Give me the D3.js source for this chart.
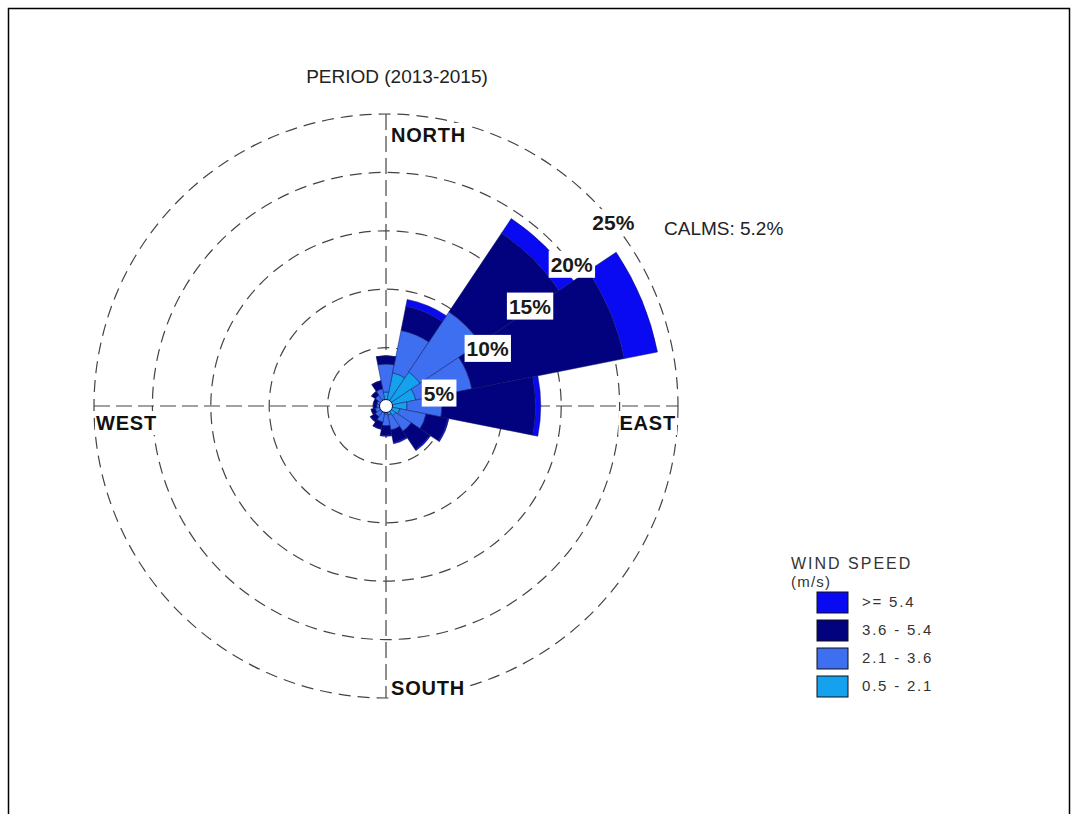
<!DOCTYPE html>
<html>
<head>
<meta charset="utf-8">
<script src="https://cdn.jsdelivr.net/npm/d3@7"></script>
<style>
  html, body { margin: 0; padding: 0; background: #fff; }
  svg { display: block; }
  text { font-family: "Liberation Sans", Arial, sans-serif; }
</style>
</head>
<body>
<svg id="chart" width="1078" height="814"></svg>
<script>
// Wind directions (16 sectors, clockwise from north)
const directions = ["N","NNE","NE","ENE","E","ESE","SE","SSE","S","SSW","SW","WSW","W","WNW","NW","NNW"];

// Frequency (%) of each wind-speed class per direction
const speed05to21 = [1.2, 2.9, 3.5, 2.6, 1.8, 1.2, 1.0, 0.8, 0.7, 0.6, 0.5, 0.45, 0.4, 0.4, 0.5, 0.6];
const speed21to36 = [2.4, 3.7, 6.2, 4.9, 3.0, 2.3, 1.6, 1.3, 1.0, 0.8, 0.6, 0.5, 0.4, 0.4, 0.6, 0.9];
const speed36to54 = [0.7, 2.1, 8.1, 13.3, 8.0, 1.9, 1.9, 1.1, 0.8, 0.6, 0.5, 0.35, 0.3, 0.3, 0.4, 0.7];
const speed54up   = [0.0, 0.6, 1.5, 2.9, 0.45, 0.1, 0.1, 0.1, 0.1, 0.05, 0.05, 0.0, 0.0, 0.0, 0.0, 0.0];

const speedClasses = ["0.5 - 2.1", "2.1 - 3.6", "3.6 - 5.4", ">= 5.4"];
const classColors  = ["#14a2ee", "#3d6ff0", "#02027e", "#0a0af2"];

const ringTicks = [5, 10, 15, 20, 25];
const calmPct = 5.2;
const periodLabel = "PERIOD (2013-2015)";

// ---------------------------------------------------------------
const svg = d3.select("#chart");
const cx = 386, cy = 406, R = 292, calmR = 6.5;

// page frame
svg.append("rect")
  .attr("x", 8.5).attr("y", 8.5).attr("width", 1061).attr("height", 830)
  .attr("fill", "none").attr("stroke", "#000").attr("stroke-width", 1.5);

const r = d3.scaleLinear().domain([0, 25]).range([0, R]);
const sector = 2 * Math.PI / directions.length;

const g = svg.append("g").attr("transform", `translate(${cx},${cy})`);

// dashed rings
g.selectAll("circle.ring").data(ringTicks).join("circle")
  .attr("class", "ring")
  .attr("r", d => r(d))
  .attr("fill", "none")
  .attr("stroke", "#444")
  .attr("stroke-width", 1.2)
  .attr("stroke-dasharray", "12,7");

// dashed N-S / E-W axes
g.append("line").attr("x1", 0).attr("y1", -R).attr("x2", 0).attr("y2", R)
  .attr("stroke", "#444").attr("stroke-width", 1.2).attr("stroke-dasharray", "16,6");
g.append("line").attr("x1", -R).attr("y1", 0).attr("x2", R).attr("y2", 0)
  .attr("stroke", "#444").attr("stroke-width", 1.2).attr("stroke-dasharray", "16,6");

// stacked wind-speed bands
const rows = directions.map((d, i) => ({
  dir: d, idx: i,
  c0: speed05to21[i], c1: speed21to36[i], c2: speed36to54[i], c3: speed54up[i]
}));
const stack = d3.stack().keys(["c0", "c1", "c2", "c3"]);
const layers = stack(rows);

const arc = d3.arc();
layers.forEach((layer, k) => {
  g.append("g").selectAll("path").data(layer).join("path")
    .attr("d", d => arc({
      innerRadius: r(d[0]),
      outerRadius: r(d[1]),
      startAngle: (d.data.idx - 0.5) * sector,
      endAngle: (d.data.idx + 0.5) * sector
    }))
    .attr("fill", classColors[k])
    .attr("stroke", "#0c1460")
    .attr("stroke-width", 0.5);
});

// calm circle
g.append("circle").attr("r", calmR).attr("fill", "#fff")
  .attr("stroke", "#0a0a40").attr("stroke-width", 1);

// text with a white backing box
function boxedText(parent, x, y, txt, opts) {
  const t = parent.append("text")
    .attr("x", x).attr("y", y)
    .attr("text-anchor", opts.anchor || "start")
    .attr("dominant-baseline", opts.baseline || "alphabetic")
    .attr("font-size", opts.size)
    .attr("font-weight", opts.weight || "normal")
    .attr("fill", opts.fill || "#111")
    .attr("letter-spacing", opts.ls || 0)
    .text(txt);
  const b = t.node().getBBox();
  const pad = opts.pad || 0;
  parent.insert("rect", () => t.node())
    .attr("x", b.x - pad).attr("y", b.y - pad)
    .attr("width", b.width + 2 * pad).attr("height", b.height + 2 * pad)
    .attr("fill", "#fff");
  return t;
}

// compass labels
boxedText(g, 5, -R + 28, "NORTH", { size: 20, weight: "bold", pad: 1, ls: 0.8 });
boxedText(g, 5, R - 3, "SOUTH", { size: 20, weight: "bold", pad: 1, ls: 0.8 });
boxedText(g, -R + 2, 24, "WEST", { size: 20, weight: "bold", pad: 1, ls: 0.8 });
boxedText(g, R - 2, 24, "EAST", { size: 20, weight: "bold", pad: 1, anchor: "end", ls: 0.8 });

// percentage labels along an offset diagonal
const off = 44;
ringTicks.forEach(v => {
  const rr = r(v);
  const th = Math.PI / 4 + Math.asin(off / (rr * Math.SQRT2));
  const x = rr * Math.sin(th), y = -rr * Math.cos(th);
  boxedText(g, x - (v === 5 ? 4 : 0), y, v + "%", { size: 21, weight: "bold", pad: 2, anchor: "middle", baseline: "central", fill: "#1a1a1a" });
});

// title and calms
svg.append("text").attr("x", 397).attr("y", 83).attr("text-anchor", "middle")
  .attr("font-size", 19).attr("fill", "#222").text(periodLabel);
svg.append("text").attr("x", 664).attr("y", 235)
  .attr("font-size", 19).attr("fill", "#222").text("CALMS: " + calmPct + "%");

// legend
const lg = svg.append("g").attr("transform", "translate(791,0)");
lg.append("text").attr("x", 0).attr("y", 569).attr("font-size", 16)
  .attr("letter-spacing", 2).attr("fill", "#333").text("WIND SPEED");
lg.append("text").attr("x", 0).attr("y", 587).attr("font-size", 15)
  .attr("letter-spacing", 1.2).attr("fill", "#333").text("(m/s)");
const legendItems = speedClasses.map((s, i) => ({ label: s, color: classColors[i] })).reverse();
const li = lg.selectAll("g.item").data(legendItems).join("g")
  .attr("class", "item")
  .attr("transform", (d, i) => `translate(26,${592 + i * 28})`);
li.append("rect").attr("width", 31).attr("height", 21)
  .attr("fill", d => d.color).attr("stroke", "#111").attr("stroke-width", 1);
li.append("text").attr("x", 45).attr("y", 15).attr("font-size", 15)
  .attr("letter-spacing", 1.8).attr("fill", "#333").text(d => d.label);
</script>
</body>
</html>
